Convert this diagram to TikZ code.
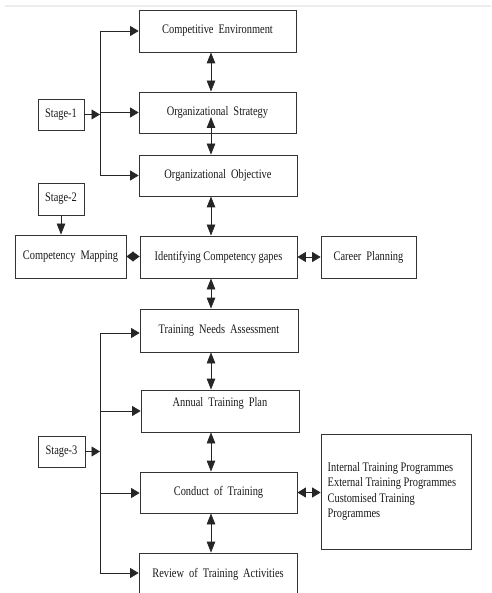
\documentclass[tikz,border=0pt]{standalone}
\usepackage{fontspec}
\setmainfont{Liberation Serif}[FakeStretch=0.8]
\usetikzlibrary{arrows.meta}
\newcommand\wgap{\hspace{5pt}}
\begin{document}
\begin{tikzpicture}[x=1pt,y=-1pt,
  txt/.style={font=\fontsize{13}{15.5}\selectfont, text=black!90, inner sep=0pt},
  box/.style={draw=black!80, line width=0.8pt, inner sep=0pt, txt},
  link/.style={draw=black!85, line width=0.8pt},
  htip/.tip={Triangle[length=8.5pt,width=10pt]},
  vtip/.tip={Triangle[length=11pt,width=8.5pt]},
  harr/.style={link, -htip},
  varr/.style={link, -vtip},
  hbi/.style={link, htip-htip},
  vbi/.style={link, vtip-vtip},
  smallbi/.style={link, {Triangle[length=7pt,width=10pt]}-{Triangle[length=7pt,width=10pt]}},
]
\useasboundingbox (0,0) rectangle (491,593);
\clip (0,0) rectangle (491,593);
% thin rule across the top
\draw[black!7, line width=2pt] (5,6) -- (491,6);

% stage labels
\node[box, minimum width=46, minimum height=31] (s1) at (61,114.5) {Stage-1};
\node[box, minimum width=46, minimum height=32] (s2) at (61,199) {Stage-2};
\node[box, minimum width=47, minimum height=31] (s3) at (61.5,451.5) {Stage-3};

% main column
\node[box, minimum width=157, minimum height=42] (ce) at (217.5,31) {Competitive\wgap Environment};
\node[box, minimum width=157, minimum height=41] (os) at (217.5,112.5) {Organizational\wgap Strategy};
\node[box, minimum width=158, minimum height=41] (oo) at (218,175.5) {Organizational\wgap Objective};
\node[box, minimum width=157, minimum height=42] (icg) at (218.5,257) {Identifying Competency gapes};
\node[box, minimum width=158, minimum height=43] (tna) at (219,330.5) {Training\wgap Needs\wgap Assessment};
\node[box, minimum width=158, minimum height=42] (atp) at (220,411) {};
\node[txt] (atpt) at ([yshift=8pt]atp.center) {Annual\wgap Training\wgap Plan};
\node[box, minimum width=157, minimum height=41] (cot) at (218.5,492.5) {Conduct\wgap of\wgap Training};
\node[box, minimum width=158, minimum height=47] (rta) at (218,576.5) {};
\node[txt] (rtat) at (218,574) {Review\wgap of\wgap Training\wgap Activities};

% side boxes
\node[box, minimum width=111, minimum height=43] (cm) at (70.5,256.5) {Competency\wgap Mapping};
\node[box, minimum width=95, minimum height=42] (cp) at (368.5,257) {Career\wgap Planning};
\node[box, minimum width=150, minimum height=115] (prog) at (396,491.5) {};
\node[txt, anchor=west, align=left] (progt) at (327.5,491.5)
  {Internal Training Programmes\\External Training Programmes\\Customised Training\\Programmes};

% bus lines for the stages
\coordinate (busx) at (100,0);
\coordinate (ax) at (211,0);

\draw[harr] (s1.east) -- (s1.east -| busx);
\draw[link] (busx |- ce.west) -- (busx |- oo.west);
\draw[harr] (busx |- ce.west) -- (ce.west);
\draw[harr] (busx |- os.west) -- (os.west);
\draw[harr] (busx |- oo.west) -- (oo.west);

\draw[varr] (s2.south) -- (s2.south |- cm.north);

\coordinate (t1) at (100,333);
\coordinate (t2) at (100,411);
\coordinate (t3) at (100,493);
\coordinate (t4) at (100,573);
\draw[harr] (s3.east) -- (s3.east -| busx);
\draw[link] (t1) -- (t4);
\draw[harr] (t1) -- (t1 -| tna.west);
\draw[harr] (t2) -- (t2 -| atp.west);
\draw[harr] (t3) -- (t3 -| cot.west);
\draw[harr] (t4) -- (t4 -| rta.west);

% links down the main column
\coordinate (osin) at (211,117);
\draw[vbi] (ax |- ce.south) -- (ax |- os.north);
\draw[vbi] (osin) -- (ax |- oo.north);
\draw[vbi] (ax |- oo.south) -- (ax |- icg.north);
\draw[vbi] (ax |- icg.south) -- (ax |- tna.north);
\draw[vbi] (ax |- tna.south) -- (ax |- atp.north);
\draw[vbi] (ax |- atp.south) -- (ax |- cot.north);
\draw[vbi] (ax |- cot.south) -- (ax |- rta.north);

% side links
\draw[smallbi] (cm.east) -- (cm.east -| icg.west);
\draw[hbi] (icg.east) -- (icg.east -| cp.west);
\draw[hbi] (cot.east) -- (cot.east -| prog.west);
\end{tikzpicture}
\end{document}
